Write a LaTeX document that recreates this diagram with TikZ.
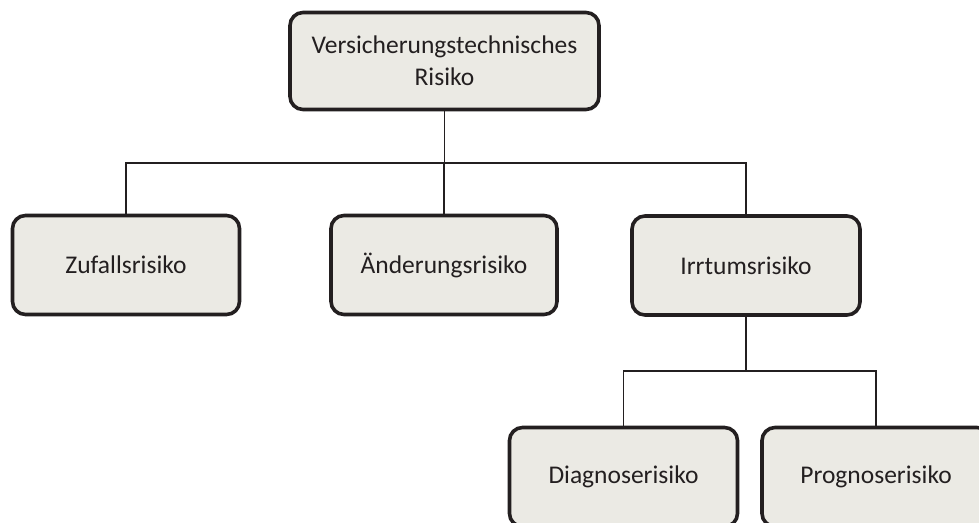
\documentclass[tikz,border=0pt]{standalone}
\usepackage{fontspec}
\setmainfont{Carlito}
\definecolor{boxfill}{HTML}{EBEAE4}
\definecolor{ink}{HTML}{231F20}
\begin{document}
\begin{tikzpicture}[x=1pt,y=-1pt,
  riskbox/.style={draw=ink, fill=boxfill, line width=3.6pt, rounded corners=13pt,
    minimum width=#1, minimum height=99pt, inner sep=0pt, align=center,
    text=ink, font=\fontsize{25.5}{32}\selectfont},
  riskbox/.default=228pt,
  link/.style={draw=ink, line width=1.4pt}]
\useasboundingbox (0,0) rectangle (979,522);
\clip (0,0) rectangle (979,522);
\node[riskbox=309pt, minimum height=97pt] (top) at (444.5,61) {Versicherungstechnisches\\Risiko};
\node[riskbox=227pt] (zuf) at (126,265) {Zufallsrisiko};
\node[riskbox=226pt] (aen) at (444,265) {Änderungsrisiko};
\node[riskbox=228pt] (irr) at (746,265.5) {Irrtumsrisiko};
\node[riskbox=228pt] (dia) at (623.5,477) {Diagnoserisiko};
\node[riskbox=228pt] (pro) at (876,477) {Prognoserisiko};
\coordinate (b1) at (444.5,163);
\coordinate (b2) at (746,371);
\draw[link] (top.south) -- (b1);
\draw[link] (zuf.north) |- (b1) -| (irr.north);
\draw[link] (aen.north) -- (aen.north |- b1);
\draw[link] (irr.south) -- (b2);
\draw[link] (dia.north) |- (b2) -| (pro.north);
\end{tikzpicture}
\end{document}
